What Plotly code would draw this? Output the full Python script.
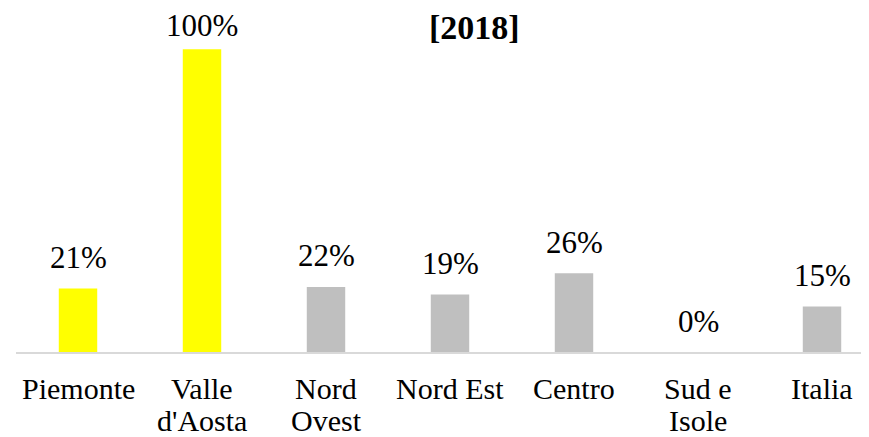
import plotly.graph_objects as go

categories = ["Piemonte", "Valle<br>d'Aosta", "Nord<br>Ovest", "Nord Est", "Centro", "Sud e<br>Isole", "Italia"]
values = [0.21, 1.00, 0.215, 0.19, 0.26, 0.0, 0.15]
labels = ["21%", "100%", "22%", "19%", "26%", "0%", "15%"]
colors = ["#FFFF00", "#FFFF00", "#BFBFBF", "#BFBFBF", "#BFBFBF", "#BFBFBF", "#BFBFBF"]
title = "[2018]"

FONT = "Liberation Serif"
W, H = 861, 429
ML, MR, MT, MB = 8, 0, 11, 85
YMAX = 1.1
plot_h = H - MT - MB
px_per_unit = plot_h / YMAX

fig = go.Figure()
fig.add_trace(go.Bar(
    x=list(range(len(categories))), y=values,
    marker=dict(color=colors, line=dict(width=0)),
    width=0.31,
    hoverinfo="skip",
))

# data labels above bars (kept inside the top of the chart area)
for i, (v, t) in enumerate(zip(values, labels)):
    bar_top_from_plot_top = plot_h - v * px_per_unit
    shift = min(31, bar_top_from_plot_top + MT - 18)
    fig.add_annotation(x=i, y=v, text=t, showarrow=False, yanchor="middle",
                       yshift=shift, font=dict(family=FONT, size=31, color="#000000"))

# category labels (two-line aware)
for i, c in enumerate(categories):
    for j, line in enumerate(c.split("<br>")):
        fig.add_annotation(x=i, y=0, text=line, showarrow=False, yanchor="middle",
                           yshift=-36 - 32 * j,
                           font=dict(family=FONT, size=30, color="#000000"))

fig.add_annotation(x=(467 - ML) / (W - ML - MR), y=(H - MB - 19) / plot_h,
                   xref="paper", yref="paper", text="<b>" + title + "</b>",
                   showarrow=False, xanchor="center", yanchor="middle",
                   font=dict(family=FONT, size=34, color="#000000"))

fig.update_layout(
    width=W, height=H,
    margin=dict(l=ML, r=MR, t=MT, b=MB, pad=0),
    paper_bgcolor="white", plot_bgcolor="white",
    showlegend=False,
    xaxis=dict(
        range=[-0.5, 6.379], showgrid=False, zeroline=False,
        showline=True, linecolor="#D9D9D9", linewidth=2,
        ticks="", showticklabels=False,
    ),
    yaxis=dict(range=[0, YMAX], visible=False, showgrid=False, zeroline=False),
)
fig.write_html("out.html")
